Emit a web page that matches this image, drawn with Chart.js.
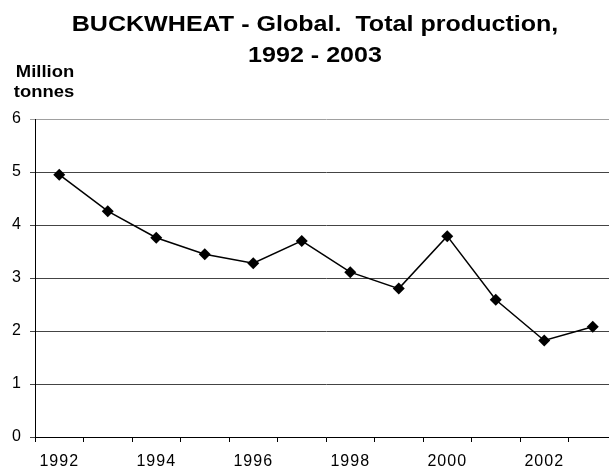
<!DOCTYPE html>
<html>
<head>
<meta charset="utf-8">
<script src="https://cdn.jsdelivr.net/npm/chart.js@4.4.1/dist/chart.umd.min.js"></script>
<style>
  html, body { margin: 0; padding: 0; background: #fff; overflow: hidden; }
  #wrap { width: 632px; height: 468px; }
</style>
</head>
<body>
<div id="wrap"><canvas id="c" width="632" height="468"></canvas></div>
<script>
const years = ['1992','1993','1994','1995','1996','1997','1998','1999','2000','2001','2002','2003'];
const production = [4.95, 4.26, 3.76, 3.45, 3.28, 3.70, 3.11, 2.80, 3.79, 2.59, 1.82, 2.08];
const yTicks = [0, 1, 2, 3, 4, 5, 6];
const titleLines = ['BUCKWHEAT - Global.  Total production,', '1992 - 2003'];
const yAxisTitle = ['Million', 'tonnes'];

const FONT = "'Liberation Sans', Arial, sans-serif";

function stretchedText(ctx, text, cx, y, sx) {
  ctx.save();
  ctx.translate(cx, y);
  ctx.scale(sx, 1);
  ctx.fillText(text, 0, 0);
  ctx.restore();
}

const textPlugin = {
  id: 'texts',
  beforeDraw(chart) {
    chart.ctx.letterSpacing = '1px';
  },
  afterDraw(chart) {
    const ctx = chart.ctx;
    ctx.save();
    ctx.letterSpacing = '0px';
    ctx.fillStyle = '#000';
    ctx.textAlign = 'center';
    ctx.textBaseline = 'alphabetic';
    // chart title
    ctx.font = 'bold 22px ' + FONT;
    stretchedText(ctx, titleLines[0], 315, 31, 1.14);
    stretchedText(ctx, titleLines[1], 315, 62, 1.14);
    // y axis title
    ctx.font = 'bold 16px ' + FONT;
    stretchedText(ctx, yAxisTitle[0], 45, 77, 1.15);
    stretchedText(ctx, yAxisTitle[1], 44, 97, 1.15);
    ctx.restore();
  }
};

new Chart(document.getElementById('c'), {
  type: 'line',
  data: {
    labels: years,
    datasets: [{
      data: production,
      borderColor: '#000',
      borderWidth: 1.5,
      backgroundColor: '#000',
      pointStyle: 'rectRot',
      pointRadius: 6,
      pointBackgroundColor: '#000',
      pointBorderColor: '#000',
      pointBorderWidth: 0,
      tension: 0,
      fill: false
    }]
  },
  options: {
    responsive: false,
    animation: false,
    devicePixelRatio: 1,
    layout: { padding: { left: 0, right: 15, top: 119, bottom: 0 } },
    plugins: {
      legend: { display: false },
      tooltip: { enabled: false },
      title: { display: false }
    },
    scales: {
      x: {
        type: 'category',
        offset: true,
        afterFit(s) { s.height = 31; },
        grid: {
          offset: true,
          drawOnChartArea: false,
          drawTicks: true,
          tickLength: 5,
          color: '#000',
          lineWidth: 1
        },
        border: { display: true, color: '#000', width: 1 },
        ticks: {
          autoSkip: false,
          maxRotation: 0,
          minRotation: 0,
          padding: 10,
          color: '#000',
          font: { family: FONT, size: 16 },
          callback(v, i) { return i % 2 === 0 ? years[i] : ''; }
        }
      },
      y: {
        min: yTicks[0],
        max: yTicks[yTicks.length - 1],
        afterFit(s) { s.width = 35; },
        afterBuildTicks(s) { s.ticks = yTicks.map(v => ({ value: v })); },
        grid: {
          drawOnChartArea: true,
          drawTicks: true,
          tickLength: 5,
          color(c) { return c.tick && c.tick.value === 6 ? '#a0a0a0' : '#444'; },
          lineWidth: 1
        },
        border: { display: true, color: '#000', width: 1 },
        ticks: {
          padding: 8,
          color: '#000',
          font: { family: FONT, size: 16 }
        }
      }
    }
  },
  plugins: [textPlugin]
});
</script>
</body>
</html>
